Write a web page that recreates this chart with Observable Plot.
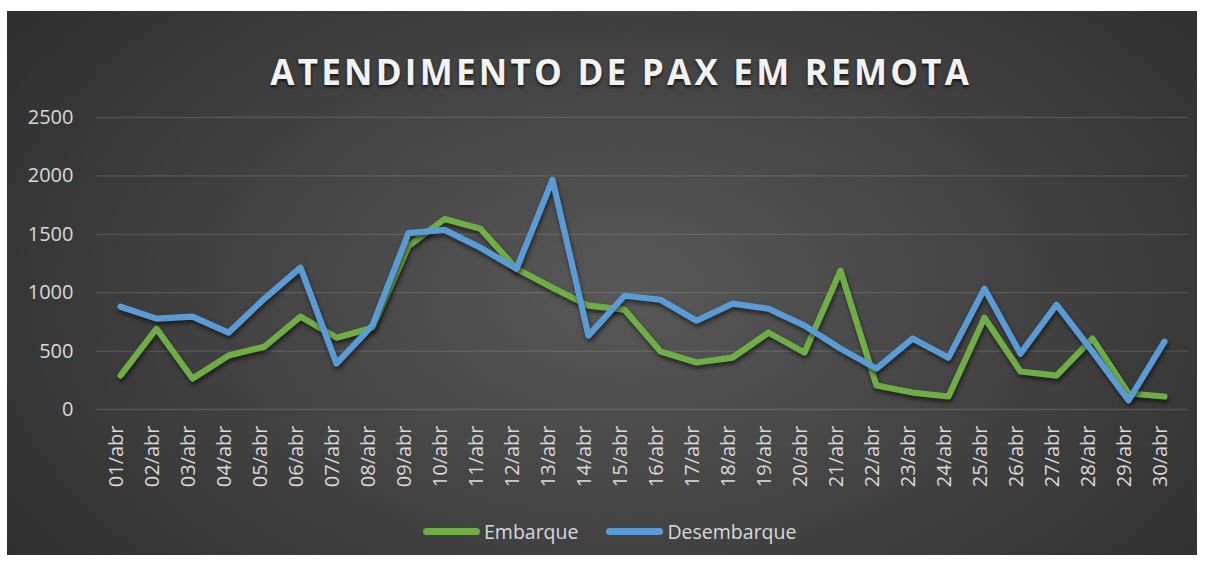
<!DOCTYPE html>
<html><head><meta charset="utf-8">
<script src="https://cdn.jsdelivr.net/npm/d3@7"></script>
<script src="https://cdn.jsdelivr.net/npm/@observablehq/plot@0.6"></script>
<style>
html,body{margin:0;padding:0;background:#fff;width:1205px;height:562px;overflow:hidden}
#panel{position:absolute;left:7px;top:11px;width:1190px;height:544px;
  background:radial-gradient(ellipse 70% 95% at 52% 52%, #585858 0%, #484848 35%, #2b2b2b 100%);
  overflow:hidden;font-family:"Open Sans",sans-serif}
#title{position:absolute;left:16px;width:1190px;top:40px;height:42px;line-height:42px;text-align:center;
  font-weight:700;font-size:35px;color:#f2f2f2;letter-spacing:4px;white-space:nowrap;
  text-shadow:0 2px 3px rgba(0,0,0,0.7)}
#title span{display:inline-block}
#chart{position:absolute;left:0;top:0}
#legend{position:absolute;left:416px;top:506px;height:28px;display:flex;align-items:center;color:#d9d9d9;font-size:19.5px}
.item{display:flex;align-items:center;margin-right:28px}
.sw{width:57px;height:7px;border-radius:3.5px;margin-right:4px}
svg [aria-label="line"] path{filter:drop-shadow(1px 3px 2px rgba(0,0,0,0.55))}
</style></head>
<body>
<div id="panel">
  <div id="title"><span id="tt">ATENDIMENTO DE PAX EM REMOTA</span></div>
  <div id="chart"></div>
  <div id="legend"></div>
</div>
<script>
const days = ["01/abr","02/abr","03/abr","04/abr","05/abr","06/abr","07/abr","08/abr","09/abr","10/abr",
  "11/abr","12/abr","13/abr","14/abr","15/abr","16/abr","17/abr","18/abr","19/abr","20/abr",
  "21/abr","22/abr","23/abr","24/abr","25/abr","26/abr","27/abr","28/abr","29/abr","30/abr"];
const embarque = [290,692,265,462,538,795,615,700,1400,1630,1547,1205,1043,889,855,496,402,444,658,487,1188,205,145,111,786,325,290,607,137,111];
const desembarque = [880,778,795,658,950,1214,393,720,1510,1538,1385,1205,1966,632,974,940,760,906,863,718,521,350,607,444,1034,478,897,495,77,581];
const seriesNames = ["Embarque","Desembarque"];
const seriesColors = ["#70AD47","#5B9BD5"];
const yTicks = [0,500,1000,1500,2000,2500];

const rows = [];
[embarque, desembarque].forEach((arr, s) => arr.forEach((v, i) => rows.push({day: days[i], v, s: seriesNames[s]})));

const chart = Plot.plot({
  width: 1190, height: 490,
  marginTop: 106, marginBottom: 92, marginLeft: 89, marginRight: 9,
  style: {background: "transparent", color: "#d9d9d9", fontFamily: "'Open Sans', sans-serif", fontSize: "20px"},
  x: {type: "point", domain: days, padding: 0.5, label: null},
  y: {domain: [0, 2500], label: null},
  marks: [
    Plot.ruleY(yTicks, {stroke: "#ffffff", strokeOpacity: 0.13, strokeWidth: 1.3}),
    Plot.axisY(yTicks, {tickSize: 0, tickPadding: 23, tickFormat: d => String(d), label: null}),
    Plot.axisX({tickSize: 0, tickPadding: 16, tickRotate: -90, dx: -4, label: null}),
    ...seriesNames.map((name, k) => Plot.line(rows.filter(d => d.s === name), {
      x: "day", y: "v", stroke: seriesColors[k], strokeWidth: 6.2,
      strokeLinecap: "round", strokeLinejoin: "round"
    }))
  ]
});
document.getElementById("chart").appendChild(chart);

const legend = document.getElementById("legend");
seriesNames.forEach((n, k) => {
  const it = document.createElement("div"); it.className = "item";
  const sw = document.createElement("div"); sw.className = "sw"; sw.style.background = seriesColors[k];
  const t = document.createElement("span"); t.textContent = n;
  it.appendChild(sw); it.appendChild(t); legend.appendChild(it);
});

// fit title width to reference (~702px)
const tt = document.getElementById("tt");
const n = tt.textContent.length;
const w0 = tt.getBoundingClientRect().width;
const ls = 4 + (702 - w0) / n;
tt.parentNode.style.letterSpacing = ls + "px";
tt.parentNode.style.paddingLeft = ls + "px";
</script>
</body></html>
